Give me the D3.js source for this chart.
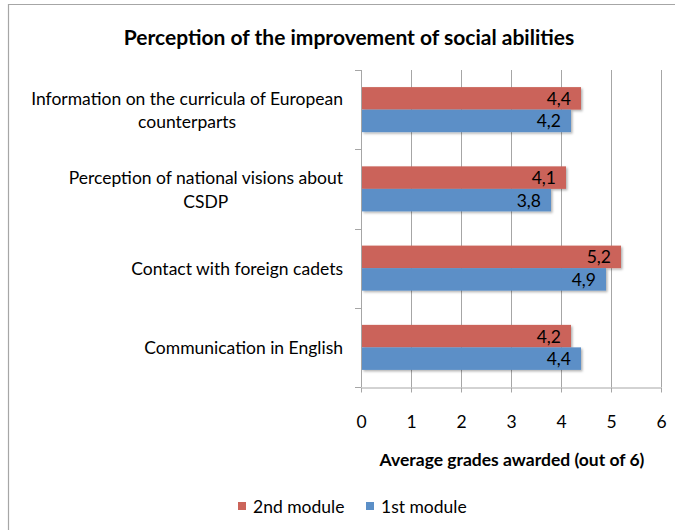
<!DOCTYPE html>
<html><head><meta charset="utf-8">
<script src="https://cdn.jsdelivr.net/npm/d3@7"></script>
<style>body{margin:0;background:#fff;} svg{display:block;}</style>
</head><body>
<svg id="c" width="675" height="530"></svg>
<script>
const categories = [
  ["Information on the curricula of European", "counterparts"],
  ["Perception of national visions about", "CSDP"],
  ["Contact with foreign cadets"],
  ["Communication in English"]
];
const seriesNames = ["2nd module", "1st module"];
const secondModule = [4.4, 4.1, 5.2, 4.2];
const firstModule = [4.2, 3.8, 4.9, 4.4];
const xTicks = [0, 1, 2, 3, 4, 5, 6];
const colors = ["#CB645A", "#5B8FC7"];

const font = "Lato, 'Open Sans', sans-serif";
const fs = 17.5;
const svg = d3.select("#c");
const m = {left: 361, right: 661, top: 70, bottom: 387};

// border
svg.append("path").attr("d", "M8.5,530 L8.5,4.5 L675,4.5").attr("fill", "none").attr("stroke", "#A6A6A6").attr("stroke-width", 1.2);

const defs = svg.append("defs");
const f = defs.append("filter").attr("id", "sh").attr("x", "-5%").attr("y", "-20%").attr("width", "115%").attr("height", "160%");
f.append("feDropShadow").attr("dx", 1.5).attr("dy", 1.5).attr("stdDeviation", 1.2).attr("flood-color", "#000").attr("flood-opacity", 0.3);

const x = d3.scaleLinear().domain([0, 6]).range([m.left, m.right]);
const idx = d3.range(categories.length);
const y = d3.scaleBand().domain(idx).range([m.top, m.bottom]).padding(0);
const ys = d3.scaleBand().domain([0, 1]).range([0, y.bandwidth()]).paddingOuter(0.76).paddingInner(0);

// gridlines
svg.append("g").selectAll("line").data(xTicks.slice(1)).join("line")
  .attr("x1", d => Math.round(x(d)) + 0.5).attr("x2", d => Math.round(x(d)) + 0.5)
  .attr("y1", m.top).attr("y2", m.bottom)
  .attr("stroke", "#A6A6A6").attr("stroke-width", 1);

// x axis
const xa = svg.append("g").attr("transform", `translate(0,${m.bottom + 0.5})`)
  .call(d3.axisBottom(x).tickValues(xTicks).tickFormat(d3.format("d")).tickSize(5).tickPadding(0).tickSizeOuter(0));
xa.select(".domain").attr("stroke", "#A6A6A6");
xa.selectAll(".tick line").attr("stroke", "#A6A6A6");
xa.selectAll(".tick text").attr("font-family", font).attr("font-size", fs).attr("fill", "#000")
  .attr("dy", null).attr("y", 40);

// y axis
const yTickPos = d3.range(categories.length + 1).map(i => m.top + i * y.bandwidth());
svg.append("line").attr("x1", m.left + 0.5).attr("x2", m.left + 0.5).attr("y1", m.top).attr("y2", m.bottom).attr("stroke", "#A6A6A6");
svg.append("g").selectAll("line").data(yTickPos).join("line")
  .attr("x1", m.left - 6).attr("x2", m.left)
  .attr("y1", d => Math.round(d) + 0.5).attr("y2", d => Math.round(d) + 0.5)
  .attr("stroke", "#A6A6A6");

// bars
const data = [];
idx.forEach(i => {
  data.push({i, s: 0, v: secondModule[i]});
  data.push({i, s: 1, v: firstModule[i]});
});
const bars = svg.append("g");
bars.selectAll("rect").data(data).join("rect")
  .attr("x", m.left + 1)
  .attr("y", d => y(d.i) + ys(d.s))
  .attr("width", d => x(d.v) - m.left - 1)
  .attr("height", ys.bandwidth())
  .attr("fill", d => colors[d.s])
  .attr("filter", "url(#sh)");
bars.selectAll("text").data(data).join("text")
  .attr("x", d => x(d.v) - 10)
  .attr("y", d => y(d.i) + ys(d.s) + ys.bandwidth() / 2 + 6.5)
  .attr("text-anchor", "end")
  .attr("font-family", font).attr("font-size", fs).attr("fill", "#000")
  .text(d => d3.format(".1f")(d.v).replace(".", ","));

// category labels
const labelRight = 343;
idx.forEach(i => {
  const lines = categories[i];
  const g = svg.append("g");
  const texts = lines.map((l, k) => g.append("text").attr("font-family", font).attr("font-size", fs)
    .attr("text-anchor", "middle").attr("fill", "#000").text(l));
  const maxW = d3.max(texts, t => t.node().getComputedTextLength());
  const cx = labelRight - maxW / 2;
  const lh = 23.5;
  const cy = y(i) + y.bandwidth() / 2;
  texts.forEach((t, k) => t.attr("x", cx).attr("y", cy - (lines.length - 1) * lh / 2 + k * lh + 7));
});

// title
svg.append("text").attr("x", 349).attr("y", 45).attr("text-anchor", "middle")
  .attr("font-family", font).attr("font-size", 21).attr("font-weight", "bold").text("Perception of the improvement of social abilities");

// axis title
svg.append("text").attr("x", 512).attr("y", 466).attr("text-anchor", "middle")
  .attr("font-family", font).attr("font-size", fs).attr("font-weight", "bold").text("Average grades awarded (out of 6)");

// legend
const legX = [238, 366];
const lg = svg.append("g");
seriesNames.forEach((n, k) => {
  lg.append("rect").attr("x", legX[k]).attr("y", 502).attr("width", 8).attr("height", 8).attr("fill", colors[k]);
  lg.append("text").attr("x", legX[k] + 15).attr("y", 513).attr("font-family", font).attr("font-size", fs).text(n);
});
</script>
</body></html>
